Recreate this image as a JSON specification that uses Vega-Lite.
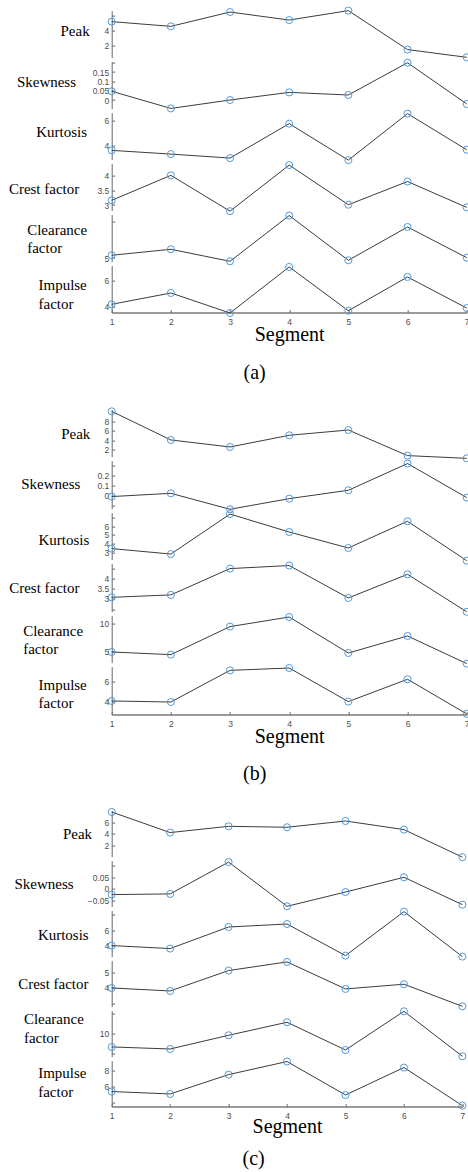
{
"$schema": "https://vega.github.io/schema/vega-lite/v6.json",
"padding": {"left": 7.7, "top": 4.6, "right": 0, "bottom": 0},
"data": {"values": [
{"p":"a","m":"Peak","s":1,"v":5.16},{"p":"a","m":"Peak","s":2,"v":4.53},{"p":"a","m":"Peak","s":3,"v":6.44},{"p":"a","m":"Peak","s":4,"v":5.37},{"p":"a","m":"Peak","s":5,"v":6.63},{"p":"a","m":"Peak","s":6,"v":1.43},{"p":"a","m":"Peak","s":7,"v":0.4},
{"p":"a","m":"Skewness","s":1,"v":0.047},{"p":"a","m":"Skewness","s":2,"v":-0.045},{"p":"a","m":"Skewness","s":3,"v":0.0},{"p":"a","m":"Skewness","s":4,"v":0.041},{"p":"a","m":"Skewness","s":5,"v":0.027},{"p":"a","m":"Skewness","s":6,"v":0.2},{"p":"a","m":"Skewness","s":7,"v":-0.021},
{"p":"a","m":"Kurtosis","s":1,"v":3.66},{"p":"a","m":"Kurtosis","s":2,"v":3.37},{"p":"a","m":"Kurtosis","s":3,"v":3.06},{"p":"a","m":"Kurtosis","s":4,"v":5.74},{"p":"a","m":"Kurtosis","s":5,"v":2.9},{"p":"a","m":"Kurtosis","s":6,"v":6.52},{"p":"a","m":"Kurtosis","s":7,"v":3.71},
{"p":"a","m":"Crest factor","s":1,"v":3.16},{"p":"a","m":"Crest factor","s":2,"v":4.01},{"p":"a","m":"Crest factor","s":3,"v":2.79},{"p":"a","m":"Crest factor","s":4,"v":4.36},{"p":"a","m":"Crest factor","s":5,"v":3.01},{"p":"a","m":"Crest factor","s":6,"v":3.8},{"p":"a","m":"Crest factor","s":7,"v":2.92},
{"p":"a","m":"Clearance factor","s":1,"v":5.37},{"p":"a","m":"Clearance factor","s":2,"v":6.19},{"p":"a","m":"Clearance factor","s":3,"v":4.55},{"p":"a","m":"Clearance factor","s":4,"v":10.78},{"p":"a","m":"Clearance factor","s":5,"v":4.69},{"p":"a","m":"Clearance factor","s":6,"v":9.22},{"p":"a","m":"Clearance factor","s":7,"v":5.05},
{"p":"a","m":"Impulse factor","s":1,"v":4.2},{"p":"a","m":"Impulse factor","s":2,"v":5.05},{"p":"a","m":"Impulse factor","s":3,"v":3.55},{"p":"a","m":"Impulse factor","s":4,"v":7.0},{"p":"a","m":"Impulse factor","s":5,"v":3.72},{"p":"a","m":"Impulse factor","s":6,"v":6.25},{"p":"a","m":"Impulse factor","s":7,"v":3.92},
{"p":"b","m":"Peak","s":1,"v":10.2},{"p":"b","m":"Peak","s":2,"v":4.07},{"p":"b","m":"Peak","s":3,"v":2.57},{"p":"b","m":"Peak","s":4,"v":5.07},{"p":"b","m":"Peak","s":5,"v":6.2},{"p":"b","m":"Peak","s":6,"v":0.72},{"p":"b","m":"Peak","s":7,"v":0.14},
{"p":"b","m":"Skewness","s":1,"v":-0.013},{"p":"b","m":"Skewness","s":2,"v":0.02},{"p":"b","m":"Skewness","s":3,"v":-0.142},{"p":"b","m":"Skewness","s":4,"v":-0.034},{"p":"b","m":"Skewness","s":5,"v":0.051},{"p":"b","m":"Skewness","s":6,"v":0.322},{"p":"b","m":"Skewness","s":7,"v":-0.023},
{"p":"b","m":"Kurtosis","s":1,"v":3.43},{"p":"b","m":"Kurtosis","s":2,"v":2.8},{"p":"b","m":"Kurtosis","s":3,"v":7.41},{"p":"b","m":"Kurtosis","s":4,"v":5.34},{"p":"b","m":"Kurtosis","s":5,"v":3.5},{"p":"b","m":"Kurtosis","s":6,"v":6.58},{"p":"b","m":"Kurtosis","s":7,"v":2.04},
{"p":"b","m":"Crest factor","s":1,"v":3.08},{"p":"b","m":"Crest factor","s":2,"v":3.2},{"p":"b","m":"Crest factor","s":3,"v":4.49},{"p":"b","m":"Crest factor","s":4,"v":4.64},{"p":"b","m":"Crest factor","s":5,"v":3.05},{"p":"b","m":"Crest factor","s":6,"v":4.21},{"p":"b","m":"Crest factor","s":7,"v":2.37},
{"p":"b","m":"Clearance factor","s":1,"v":5.0},{"p":"b","m":"Clearance factor","s":2,"v":4.53},{"p":"b","m":"Clearance factor","s":3,"v":9.47},{"p":"b","m":"Clearance factor","s":4,"v":11.16},{"p":"b","m":"Clearance factor","s":5,"v":4.82},{"p":"b","m":"Clearance factor","s":6,"v":7.82},{"p":"b","m":"Clearance factor","s":7,"v":2.95},
{"p":"b","m":"Impulse factor","s":1,"v":4.06},{"p":"b","m":"Impulse factor","s":2,"v":3.96},{"p":"b","m":"Impulse factor","s":3,"v":7.08},{"p":"b","m":"Impulse factor","s":4,"v":7.31},{"p":"b","m":"Impulse factor","s":5,"v":4.0},{"p":"b","m":"Impulse factor","s":6,"v":6.2},{"p":"b","m":"Impulse factor","s":7,"v":2.79},
{"p":"c","m":"Peak","s":1,"v":7.89},{"p":"c","m":"Peak","s":2,"v":4.25},{"p":"c","m":"Peak","s":3,"v":5.36},{"p":"c","m":"Peak","s":4,"v":5.19},{"p":"c","m":"Peak","s":5,"v":6.3},{"p":"c","m":"Peak","s":6,"v":4.78},{"p":"c","m":"Peak","s":7,"v":-0.1},
{"p":"c","m":"Skewness","s":1,"v":-0.024},{"p":"c","m":"Skewness","s":2,"v":-0.021},{"p":"c","m":"Skewness","s":3,"v":0.115},{"p":"c","m":"Skewness","s":4,"v":-0.074},{"p":"c","m":"Skewness","s":5,"v":-0.013},{"p":"c","m":"Skewness","s":6,"v":0.05},{"p":"c","m":"Skewness","s":7,"v":-0.067},
{"p":"c","m":"Kurtosis","s":1,"v":4.0},{"p":"c","m":"Kurtosis","s":2,"v":3.61},{"p":"c","m":"Kurtosis","s":3,"v":6.43},{"p":"c","m":"Kurtosis","s":4,"v":6.82},{"p":"c","m":"Kurtosis","s":5,"v":2.69},{"p":"c","m":"Kurtosis","s":6,"v":8.44},{"p":"c","m":"Kurtosis","s":7,"v":2.56},
{"p":"c","m":"Crest factor","s":1,"v":4.0},{"p":"c","m":"Crest factor","s":2,"v":3.81},{"p":"c","m":"Crest factor","s":3,"v":5.11},{"p":"c","m":"Crest factor","s":4,"v":5.66},{"p":"c","m":"Crest factor","s":5,"v":3.94},{"p":"c","m":"Crest factor","s":6,"v":4.24},{"p":"c","m":"Crest factor","s":7,"v":2.83},
{"p":"c","m":"Clearance factor","s":1,"v":6.6},{"p":"c","m":"Clearance factor","s":2,"v":6.08},{"p":"c","m":"Clearance factor","s":3,"v":9.57},{"p":"c","m":"Clearance factor","s":4,"v":12.88},{"p":"c","m":"Clearance factor","s":5,"v":5.83},{"p":"c","m":"Clearance factor","s":6,"v":15.67},{"p":"c","m":"Clearance factor","s":7,"v":4.23},
{"p":"c","m":"Impulse factor","s":1,"v":5.34},{"p":"c","m":"Impulse factor","s":2,"v":5.04},{"p":"c","m":"Impulse factor","s":3,"v":7.46},{"p":"c","m":"Impulse factor","s":4,"v":9.09},{"p":"c","m":"Impulse factor","s":5,"v":4.91},{"p":"c","m":"Impulse factor","s":6,"v":8.34},{"p":"c","m":"Impulse factor","s":7,"v":3.58}
]},
"config": {
  "view": {"stroke": null},
  "axis": {"grid": false, "labelFont": "Liberation Sans", "labelFontSize": 8.5, "labelColor": "#4d4d4d", "tickColor": "#666", "domainColor": "#666", "tickSize": -3, "labelOverlap": false, "labelFlush": false, "titleFontWeight": "normal", "titleColor": "#000", "titleFont": "Liberation Serif"},
  "axisY": {"labelPadding": 6, "titleAngle": 0, "titleAlign": "left", "titleBaseline": "alphabetic", "titleFontSize": 15, "titleLineHeight": 18.5},
  "axisX": {"labelPadding": 7.5, "titleFontSize": 20, "titleBaseline": "alphabetic", "domainWidth": 1.5, "domainColor": "#7a7a7a"},
  "title": {"font": "Liberation Serif", "fontSize": 20, "fontWeight": "normal", "color": "#000", "orient": "top", "anchor": "middle", "frame": "group", "baseline": "alphabetic"},
  "line": {"color": "#3a3a3a", "strokeWidth": 1},
  "point": {"shape": "circle", "size": 50, "color": "#4f98da", "strokeWidth": 1, "filled": false, "opacity": 1}
},
"bounds": "flush",
"spacing": 4,
"vconcat": [
  {"width": 355, "height": 47, "transform": [{"filter": "datum.p == 'a' && datum.m == 'Peak'"}],
   "encoding": {"x": {"field": "s", "type": "quantitative", "scale": {"domain": [1, 7], "nice": false}, "axis": null},
     "y": {"field": "v", "type": "quantitative", "scale": {"domain": [0.36, 6.63], "nice": false, "zero": false},
       "axis": {"values": [2, 4, 6], "labelExpr": "indexof([6], datum.value) >= 0 ? '' : format(datum.value, '~g')", "title": "Peak", "titleX": -51.7, "titleY": 24.9}}},
   "layer": [{"mark": "line", "encoding": {}}, {"mark": "point"}]},
  {"width": 355, "height": 47, "transform": [{"filter": "datum.p == 'a' && datum.m == 'Skewness'"}],
   "encoding": {"x": {"field": "s", "type": "quantitative", "scale": {"domain": [1, 7], "nice": false}, "axis": null},
     "y": {"field": "v", "type": "quantitative", "scale": {"domain": [-0.046, 0.206], "nice": false, "zero": false},
       "axis": {"values": [0, 0.05, 0.1, 0.15, 0.2], "labelExpr": "indexof([0.2], datum.value) >= 0 ? '' : format(datum.value, '~g')", "title": "Skewness", "titleX": -95.3, "titleY": 24.5}}},
   "layer": [{"mark": "line", "encoding": {}}, {"mark": "point"}]},
  {"width": 355, "height": 47, "transform": [{"filter": "datum.p == 'a' && datum.m == 'Kurtosis'"}],
   "encoding": {"x": {"field": "s", "type": "quantitative", "scale": {"domain": [1, 7], "nice": false}, "axis": null},
     "y": {"field": "v", "type": "quantitative", "scale": {"domain": [2.94, 6.6], "nice": false, "zero": false},
       "axis": {"values": [4, 6], "labelExpr": "format(datum.value, '~g')", "title": "Kurtosis", "titleX": -76, "titleY": 23.5}}},
   "layer": [{"mark": "line", "encoding": {}}, {"mark": "point"}]},
  {"width": 355, "height": 47, "transform": [{"filter": "datum.p == 'a' && datum.m == 'Crest factor'"}],
   "encoding": {"x": {"field": "s", "type": "quantitative", "scale": {"domain": [1, 7], "nice": false}, "axis": null},
     "y": {"field": "v", "type": "quantitative", "scale": {"domain": [2.81, 4.41], "nice": false, "zero": false},
       "axis": {"values": [3, 3.5, 4], "labelExpr": "format(datum.value, '~g')", "title": "Crest factor", "titleX": -103.3, "titleY": 30.2}}},
   "layer": [{"mark": "line", "encoding": {}}, {"mark": "point"}]},
  {"width": 355, "height": 47, "transform": [{"filter": "datum.p == 'a' && datum.m == 'Clearance factor'"}],
   "encoding": {"x": {"field": "s", "type": "quantitative", "scale": {"domain": [1, 7], "nice": false}, "axis": null},
     "y": {"field": "v", "type": "quantitative", "scale": {"domain": [4.51, 10.91], "nice": false, "zero": false},
       "axis": {"values": [5, 10], "labelExpr": "indexof([10], datum.value) >= 0 ? '' : format(datum.value, '~g')", "title": ["Clearance", "factor"], "titleX": -85, "titleY": 19.5}}},
   "layer": [{"mark": "line", "encoding": {}}, {"mark": "point"}]},
  {"width": 355, "height": 47, "transform": [{"filter": "datum.p == 'a' && datum.m == 'Impulse factor'"}],
   "encoding": {"x": {"field": "s", "type": "quantitative", "scale": {"domain": [1, 7], "nice": false},
       "axis": {"values": [1, 2, 3, 4, 5, 6, 7], "format": "d", "title": "Segment", "titleY": 28}},
     "y": {"field": "v", "type": "quantitative", "scale": {"domain": [3.58, 7.1], "nice": false, "zero": false},
       "axis": {"values": [4, 6], "labelExpr": "format(datum.value, '~g')", "title": ["Impulse", "factor"], "titleX": -73.7, "titleY": 24.2}}},
   "layer": [{"mark": "line", "encoding": {}}, {"mark": "point"}]},
  {"width": 355, "height": 89, "data": {"values": []}, "mark": "point",
   "title": {"text": "(a)", "offset": -66, "dx": -34.5}},
  {"width": 355, "height": 47, "transform": [{"filter": "datum.p == 'b' && datum.m == 'Peak'"}],
   "encoding": {"x": {"field": "s", "type": "quantitative", "scale": {"domain": [1, 7], "nice": false}, "axis": null},
     "y": {"field": "v", "type": "quantitative", "scale": {"domain": [0.51, 10.57], "nice": false, "zero": false},
       "axis": {"values": [2, 4, 6, 8], "labelExpr": "format(datum.value, '~g')", "title": "Peak", "titleX": -51, "titleY": 28.5}}},
   "layer": [{"mark": "line", "encoding": {}}, {"mark": "point"}]},
  {"width": 355, "height": 48, "transform": [{"filter": "datum.p == 'b' && datum.m == 'Skewness'"}],
   "encoding": {"x": {"field": "s", "type": "quantitative", "scale": {"domain": [1, 7], "nice": false}, "axis": null},
     "y": {"field": "v", "type": "quantitative", "scale": {"domain": [-0.135, 0.352], "nice": false, "zero": false},
       "axis": {"values": [-0.1, 0, 0.1, 0.2, 0.3], "labelExpr": "indexof([-0.1, 0.3], datum.value) >= 0 ? '' : format(datum.value, '~g')", "title": "Skewness", "titleX": -91, "titleY": 28.2}}},
   "layer": [{"mark": "line", "encoding": {}}, {"mark": "point"}]},
  {"width": 355, "height": 47, "transform": [{"filter": "datum.p == 'b' && datum.m == 'Kurtosis'"}],
   "encoding": {"x": {"field": "s", "type": "quantitative", "scale": {"domain": [1, 7], "nice": false}, "axis": null},
     "y": {"field": "v", "type": "quantitative", "scale": {"domain": [2.16, 7.58], "nice": false, "zero": false},
       "axis": {"values": [3, 4, 5, 6, 7], "labelExpr": "indexof([7], datum.value) >= 0 ? '' : format(datum.value, '~g')", "title": "Kurtosis", "titleX": -73.7, "titleY": 31.9}}},
   "layer": [{"mark": "line", "encoding": {}}, {"mark": "point"}]},
  {"width": 355, "height": 48, "transform": [{"filter": "datum.p == 'b' && datum.m == 'Crest factor'"}],
   "encoding": {"x": {"field": "s", "type": "quantitative", "scale": {"domain": [1, 7], "nice": false}, "axis": null},
     "y": {"field": "v", "type": "quantitative", "scale": {"domain": [2.38, 4.735], "nice": false, "zero": false},
       "axis": {"values": [2.5, 3, 3.5, 4, 4.5], "labelExpr": "indexof([2.5, 4.5], datum.value) >= 0 ? '' : format(datum.value, '~g')", "title": "Crest factor", "titleX": -103, "titleY": 29.2}}},
   "layer": [{"mark": "line", "encoding": {}}, {"mark": "point"}]},
  {"width": 355, "height": 47, "transform": [{"filter": "datum.p == 'b' && datum.m == 'Clearance factor'"}],
   "encoding": {"x": {"field": "s", "type": "quantitative", "scale": {"domain": [1, 7], "nice": false}, "axis": null},
     "y": {"field": "v", "type": "quantitative", "scale": {"domain": [3.13, 11.41], "nice": false, "zero": false},
       "axis": {"values": [5, 10], "labelExpr": "format(datum.value, '~g')", "title": ["Clearance", "factor"], "titleX": -89, "titleY": 19.9}}},
   "layer": [{"mark": "line", "encoding": {}}, {"mark": "point"}]},
  {"width": 355, "height": 48, "transform": [{"filter": "datum.p == 'b' && datum.m == 'Impulse factor'"}],
   "encoding": {"x": {"field": "s", "type": "quantitative", "scale": {"domain": [1, 7], "nice": false},
       "axis": {"values": [1, 2, 3, 4, 5, 6, 7], "format": "d", "title": "Segment", "titleY": 28}},
     "y": {"field": "v", "type": "quantitative", "scale": {"domain": [2.72, 7.45], "nice": false, "zero": false},
       "axis": {"values": [4, 6], "labelExpr": "format(datum.value, '~g')", "title": ["Impulse", "factor"], "titleX": -73.7, "titleY": 22.9}}},
   "layer": [{"mark": "line", "encoding": {}}, {"mark": "point"}]},
  {"width": 355, "height": 88, "data": {"values": []}, "mark": "point",
   "title": {"text": "(b)", "offset": -65.7, "dx": -34.5}},
  {"width": 350.7, "height": 46, "transform": [{"filter": "datum.p == 'c' && datum.m == 'Peak'"}],
   "encoding": {"x": {"field": "s", "type": "quantitative", "scale": {"domain": [1, 7], "nice": false}, "axis": null},
     "y": {"field": "v", "type": "quantitative", "scale": {"domain": [0.0, 8.14], "nice": false, "zero": false},
       "axis": {"values": [2, 4, 6], "labelExpr": "format(datum.value, '~g')", "title": "Peak", "titleX": -49.3, "titleY": 27.5}}},
   "layer": [{"mark": "line", "encoding": {}}, {"mark": "point"}]},
  {"width": 350.7, "height": 46, "transform": [{"filter": "datum.p == 'c' && datum.m == 'Skewness'"}],
   "encoding": {"x": {"field": "s", "type": "quantitative", "scale": {"domain": [1, 7], "nice": false}, "axis": null},
     "y": {"field": "v", "type": "quantitative", "scale": {"domain": [-0.0752, 0.1214], "nice": false, "zero": false},
       "axis": {"values": [-0.05, 0, 0.05, 0.1], "labelExpr": "indexof([0.1], datum.value) >= 0 ? '' : format(datum.value, '~g')", "title": "Skewness", "titleX": -97.7, "titleY": 27.5}}},
   "layer": [{"mark": "line", "encoding": {}}, {"mark": "point"}]},
  {"width": 350.7, "height": 46, "transform": [{"filter": "datum.p == 'c' && datum.m == 'Kurtosis'"}],
   "encoding": {"x": {"field": "s", "type": "quantitative", "scale": {"domain": [1, 7], "nice": false}, "axis": null},
     "y": {"field": "v", "type": "quantitative", "scale": {"domain": [2.562, 8.575], "nice": false, "zero": false},
       "axis": {"values": [4, 6, 8], "labelExpr": "indexof([8], datum.value) >= 0 ? '' : format(datum.value, '~g')", "title": "Kurtosis", "titleX": -74.3, "titleY": 29.2}}},
   "layer": [{"mark": "line", "encoding": {}}, {"mark": "point"}]},
  {"width": 350.7, "height": 46, "transform": [{"filter": "datum.p == 'c' && datum.m == 'Crest factor'"}],
   "encoding": {"x": {"field": "s", "type": "quantitative", "scale": {"domain": [1, 7], "nice": false}, "axis": null},
     "y": {"field": "v", "type": "quantitative", "scale": {"domain": [2.815, 5.745], "nice": false, "zero": false},
       "axis": {"values": [3, 4, 5], "labelExpr": "indexof([3], datum.value) >= 0 ? '' : format(datum.value, '~g')", "title": "Crest factor", "titleX": -94, "titleY": 28.2}}},
   "layer": [{"mark": "line", "encoding": {}}, {"mark": "point"}]},
  {"width": 350.7, "height": 46, "transform": [{"filter": "datum.p == 'c' && datum.m == 'Clearance factor'"}],
   "encoding": {"x": {"field": "s", "type": "quantitative", "scale": {"domain": [1, 7], "nice": false}, "axis": null},
     "y": {"field": "v", "type": "quantitative", "scale": {"domain": [4.15, 15.85], "nice": false, "zero": false},
       "axis": {"values": [5, 10, 15], "labelExpr": "indexof([5, 15], datum.value) >= 0 ? '' : format(datum.value, '~g')", "title": ["Clearance", "factor"], "titleX": -88.3, "titleY": 13.2}}},
   "layer": [{"mark": "line", "encoding": {}}, {"mark": "point"}]},
  {"width": 350.7, "height": 46, "transform": [{"filter": "datum.p == 'c' && datum.m == 'Impulse factor'"}],
   "encoding": {"x": {"field": "s", "type": "quantitative", "scale": {"domain": [1, 7], "nice": false},
       "axis": {"values": [1, 2, 3, 4, 5, 6, 7], "format": "d", "title": "Segment", "titleY": 26}},
     "y": {"field": "v", "type": "quantitative", "scale": {"domain": [3.46, 9.21], "nice": false, "zero": false},
       "axis": {"values": [4, 6, 8], "labelExpr": "indexof([4], datum.value) >= 0 ? '' : format(datum.value, '~g')", "title": ["Impulse", "factor"], "titleX": -74, "titleY": 17.2}}},
   "layer": [{"mark": "line", "encoding": {}}, {"mark": "point"}]},
  {"width": 350.7, "height": 60, "data": {"values": []}, "mark": "point",
   "title": {"text": "(c)", "offset": -58.7, "dx": -33.4}}
]
}
